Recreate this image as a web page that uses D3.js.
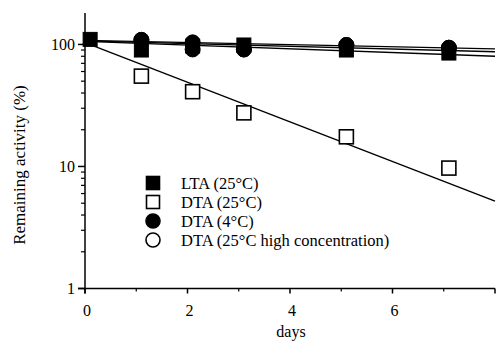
<!DOCTYPE html>
<html>
<head>
<meta charset="utf-8">
<script src="https://cdn.jsdelivr.net/npm/d3@7"></script>
<style>
  body { margin: 0; background: #fff; }
</style>
</head>
<body>
<script>
// valori
const days = [0.1, 1.1, 2.1, 3.1, 5.1, 7.1];
const ltaValues = [110, 90, 97, 99, 90, 85];
const dta25Values = [null, 55, 41, 27.5, 17.5, 9.7];
const dta4Values = [null, 109, 91, 91, 99, 94];
const dtaHighValues = [null, 109, 104, 91, 99, 94];

// rette di regressione: valore a giorno 0 e giorno 8
const fitDays = [0, 8];
const fitLta = [107, 87];
const fitDta25 = [103.5, 5.2];
const fitDta4 = [108, 92];
const fitDtaHigh = [106, 80];

const xTicks = [0, 2, 4, 6, 8];
const xMinor = [1, 3, 5, 7];
const yTicks = [1, 10, 100];
const yMinor = [2, 3, 4, 5, 6, 7, 8, 9, 20, 30, 40, 50, 60, 70, 80, 90];

const legendLabels = ["LTA (25°C)", "DTA (25°C)", "DTA (4°C)", "DTA (25°C high concentration)"];

const width = 497, height = 345;
const serif = "'Liberation Serif', 'Times New Roman', 'DejaVu Serif', serif";

const svg = d3.select("body")
  .append("svg")
  .attr("width", width)
  .attr("height", height)
  .attr("font-family", serif)
  .style("font-family", serif);

const x = d3.scaleLinear().domain([0, 8]).range([85, 495]);
const y = d3.scaleLog().domain([1, 181]).range([288.5, 13]);

// assi
svg.append("line")
  .attr("x1", x(0)).attr("x2", x(0))
  .attr("y1", y(181)).attr("y2", y(1) + 5)
  .attr("stroke", "#000").attr("stroke-width", 1.5);
svg.append("line")
  .attr("x1", x(0) - 7).attr("x2", x(8))
  .attr("y1", y(1)).attr("y2", y(1))
  .attr("stroke", "#000").attr("stroke-width", 1.5);

// tacche asse y
svg.selectAll(".ymajor").data(yTicks).enter().append("line")
  .attr("x1", x(0) - 7).attr("x2", x(0))
  .attr("y1", d => y(d)).attr("y2", d => y(d))
  .attr("stroke", "#000").attr("stroke-width", 1.5);
svg.selectAll(".yminor").data(yMinor).enter().append("line")
  .attr("x1", x(0) - 4).attr("x2", x(0))
  .attr("y1", d => y(d)).attr("y2", d => y(d))
  .attr("stroke", "#000").attr("stroke-width", 1.2);
svg.selectAll(".ylab").data(yTicks).enter().append("text")
  .attr("x", x(0) - 10)
  .attr("y", d => y(d))
  .attr("dy", "0.35em")
  .attr("text-anchor", "end")
  .style("font-size", "16px")
  .text(d => d);

// tacche asse x
svg.selectAll(".xmajor").data(xTicks).enter().append("line")
  .attr("x1", d => x(d)).attr("x2", d => x(d))
  .attr("y1", y(1)).attr("y2", y(1) + 5)
  .attr("stroke", "#000").attr("stroke-width", 1.5);
svg.selectAll(".xminor").data(xMinor).enter().append("line")
  .attr("x1", d => x(d)).attr("x2", d => x(d))
  .attr("y1", y(1)).attr("y2", y(1) + 3)
  .attr("stroke", "#000").attr("stroke-width", 1.2);
svg.selectAll(".xlab").data(xTicks.slice(0, 4)).enter().append("text")
  .attr("x", d => x(d) + 2)
  .attr("y", y(1) + 27)
  .attr("text-anchor", "middle")
  .style("font-size", "16px")
  .text(d => d);

svg.append("text")
  .attr("x", 291).attr("y", 337)
  .attr("text-anchor", "middle")
  .style("font-size", "16px")
  .text("days");

svg.append("text")
  .attr("transform", "translate(25,165) rotate(-90)")
  .attr("text-anchor", "middle")
  .style("font-size", "17px")
  .text("Remaining activity (%)");

// rette
const line = d3.line().x(d => x(d[0])).y(d => y(d[1]));
[fitDtaHigh, fitDta4, fitLta, fitDta25].forEach(function (fit) {
  svg.append("path")
    .attr("d", line(fitDays.map((d, i) => [d, fit[i]])))
    .attr("fill", "none")
    .attr("stroke", "#000")
    .attr("stroke-width", 1.4);
});

function pts(vals) {
  return days.map((d, i) => [d, vals[i]]).filter(p => p[1] != null);
}

// simboli
function drawSquares(data, filled) {
  svg.append("g").selectAll("rect").data(data).enter().append("rect")
    .attr("x", d => x(d[0]) - 7)
    .attr("y", d => y(d[1]) - 7)
    .attr("width", 14).attr("height", 14)
    .attr("fill", filled ? "#000" : "#fff")
    .attr("stroke", "#000")
    .attr("stroke-width", filled ? 1 : 1.6);
}
function drawCircles(data, filled) {
  svg.append("g").selectAll("circle").data(data).enter().append("circle")
    .attr("cx", d => x(d[0]))
    .attr("cy", d => y(d[1]))
    .attr("r", 7.5)
    .attr("fill", filled ? "#000" : "#fff")
    .attr("stroke", "#000")
    .attr("stroke-width", filled ? 1 : 1.6);
}

drawCircles(pts(dtaHighValues), true);
drawSquares(pts(dta25Values), false);
drawCircles(pts(dta4Values), true);
drawSquares(pts(ltaValues), true);

// legenda
const legendY = [183, 202, 221, 240];
const legend = svg.append("g");
legendLabels.forEach(function (label, i) {
  let cy = legendY[i];
  if (i < 2) {
    legend.append("rect")
      .attr("x", 146.5).attr("y", cy - 6.5)
      .attr("width", 13).attr("height", 13)
      .attr("fill", i == 0 ? "#000" : "#fff")
      .attr("stroke", "#000").attr("stroke-width", 1.6);
  } else {
    legend.append("circle")
      .attr("cx", 153).attr("cy", cy)
      .attr("r", 7)
      .attr("fill", i == 2 ? "#000" : "#fff")
      .attr("stroke", "#000").attr("stroke-width", 1.6);
  }
  legend.append("text")
    .attr("x", 181).attr("y", cy)
    .attr("dy", "0.35em")
    .style("font-size", "16.5px")
    .text(label);
});
</script>
</body>
</html>
